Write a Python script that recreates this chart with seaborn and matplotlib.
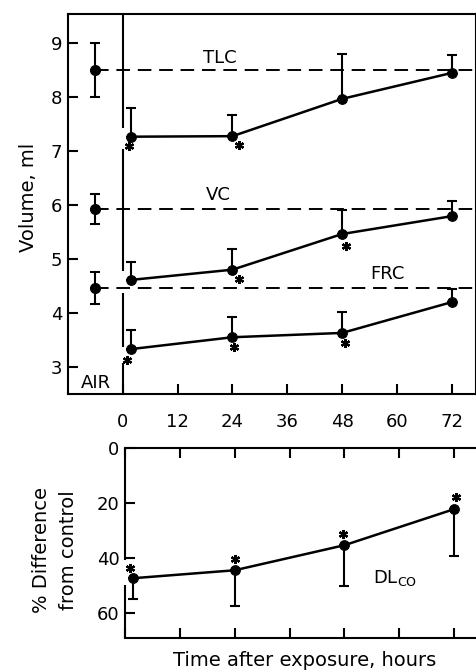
import matplotlib
matplotlib.use("Agg")
from matplotlib import pyplot as plt
from matplotlib import transforms
import numpy as np
import seaborn as sns

# ---- data ----
hours = [1.7, 24, 48, 72]
air_x = -6

tlc_air, tlc_air_sd = 8.5, 0.5
vc_air, vc_air_sd = 5.92, 0.28
frc_air, frc_air_sd = 4.46, 0.30

tlc = [7.26, 7.27, 7.96, 8.44]
tlc_sd = [0.53, 0.40, 0.83, 0.33]
vc = [4.61, 4.80, 5.46, 5.79]
vc_sd = [0.34, 0.38, 0.44, 0.28]
frc = [3.33, 3.55, 3.63, 4.20]
frc_sd = [0.35, 0.37, 0.38, 0.25]

dlco = [47.3, 44.4, 35.3, 22.2]
dlco_sd = [7.7, 13.1, 14.9, 17.1]

tlc_sig = [True, True, False, False]
vc_sig = [False, True, True, False]
frc_sig = [True, True, True, False]
dlco_sig = [True, True, True, True]

xticks = [0, 12, 24, 36, 48, 60, 72]
vol_ticks = [3, 4, 5, 6, 7, 8, 9]
pct_ticks = [0, 20, 40, 60]

# ---- style ----
sns.set_style("ticks")
plt.rcParams['font.family'] = ['DejaVu Sans']
for k in ['text.color', 'axes.labelcolor', 'xtick.color', 'ytick.color', 'axes.edgecolor']:
    plt.rcParams[k] = 'black'
K = 'black'
LW = 1.5
FS = 13

# star offsets in pixels (dx, dy) relative to each point
star_off = {
    'tlc': [(-2, -9), (7, -9), None, None],
    'vc': [None, (7, -9), (4, -12), None],
    'frc': [(-4, -11), (2, -10), (3, -10), None],
    'dlco': [(-3, 10), (0, 11), (-1, 11), (2, 12)],
}

fig = plt.figure(figsize=(4.77, 6.72), dpi=100)
ax1 = fig.add_axes([68/477, 1-394/672, 408/477, 380/672])
ax2 = fig.add_axes([125/477, 1-638/672, 352/477, 190/672])


def draw_series(ax, x, y, sd, sig, offs):
    sns.lineplot(x=x, y=y, ax=ax, color=K, lw=LW*1.2, marker='o',
                 markersize=7, markeredgecolor=K, markerfacecolor=K, zorder=4)
    # one-sided bars: +sd (drawn downward on the inverted % axis)
    ax.errorbar(x, y, yerr=[[0]*len(sd), sd], fmt='none', ecolor=K, elinewidth=LW,
                capsize=3.5, capthick=LW, zorder=3)
    for xi, yi, s, o in zip(x, y, sig, offs):
        if s and o is not None:
            tr = transforms.offset_copy(ax.transData, fig=fig, x=o[0], y=o[1], units='dots')
            ax.plot([xi], [yi], marker=(6, 2, 0), ms=6.5, mew=1.6, color=K,
                    transform=tr, zorder=5)


# ---- top panel: volumes ----
ax1.set_xlim(-12, 77.3)
ax1.set_ylim(2.5, 9.53)

for v, s in [(tlc_air, tlc_air_sd), (vc_air, vc_air_sd), (frc_air, frc_air_sd)]:
    ax1.errorbar([air_x], [v], yerr=[[s], [s]], fmt='o', color=K, ms=7,
                 elinewidth=LW, capsize=3.5, capthick=LW, zorder=4)
    ax1.hlines(v, air_x, 77.3, colors=K, lw=1.4, linestyles=(0, (7, 4)), zorder=2)

draw_series(ax1, hours, tlc, tlc_sd, tlc_sig, star_off['tlc'])
draw_series(ax1, hours, vc, vc_sd, vc_sig, star_off['vc'])
draw_series(ax1, hours, frc, frc_sd, frc_sig, star_off['frc'])

# exposure onset line, broken around the first points
for y0, y1 in [(7.42, 9.53), (4.78, 7.04), (3.37, 4.36), (2.5, 3.07)]:
    ax1.vlines(0, y0, y1, colors=K, lw=LW, zorder=2)

ax1.text(21.3, 8.72, 'TLC', fontsize=FS, ha='center', va='center')
ax1.text(20.9, 6.19, 'VC', fontsize=FS, ha='center', va='center')
ax1.text(57.9, 4.72, 'FRC', fontsize=FS, ha='center', va='center')
ax1.text(-5.8, 2.71, 'AIR', fontsize=FS, ha='center', va='center')

ax1.set_xticks(xticks)
ax1.set_yticks(vol_ticks)
ax1.set_xticklabels([str(t) for t in xticks], fontsize=FS)
ax1.set_yticklabels([str(t) for t in vol_ticks], fontsize=FS)
ax1.tick_params(axis='x', direction='in', length=7, width=LW, pad=14)
ax1.tick_params(axis='y', direction='in', length=7, width=LW, pad=4)
for sp in ax1.spines.values():
    sp.set_linewidth(LW)
    sp.set_visible(True)
ax1.set_xlabel('')
ax1.set_ylabel('')

# ---- bottom panel: DLco ----
ax2.set_xlim(0, 77.0)
ax2.set_ylim(69, 0)
draw_series(ax2, hours, dlco, dlco_sd, dlco_sig, star_off['dlco'])
ax2.text(54.3, 47.3, r'DL$_{\mathregular{CO}}$', fontsize=FS, ha='left', va='center')

ax2.set_xticks(xticks)
ax2.set_yticks(pct_ticks)
ax2.set_yticklabels([str(t) for t in pct_ticks], fontsize=FS)
ax2.tick_params(axis='x', direction='in', length=7, width=LW, top=True,
                bottom=True, labelbottom=False, labeltop=False)
ax2.tick_params(axis='y', direction='in', length=7, width=LW, pad=4)
ax2.spines['right'].set_visible(False)
ax2.spines['left'].set_visible(False)
ax2.spines['top'].set_linewidth(LW)
ax2.spines['bottom'].set_linewidth(LW)
for y0, y1 in [(0, 40.7), (49.8, 69)]:
    ax2.vlines(0, y0, y1, colors=K, lw=LW, clip_on=False)
ax2.set_xlabel('')
ax2.set_ylabel('')

# ---- axis titles ----
fig.text(29/477, 1-197/672, 'Volume, ml', rotation=90, fontsize=14,
         ha='center', va='center')
fig.text(55/477, 1-550/672, '% Difference\nfrom control', rotation=90,
         fontsize=14, ha='center', va='center', linespacing=1.55)
fig.text(305/477, 1-660/672, 'Time after exposure, hours', fontsize=14,
         ha='center', va='center')

fig.savefig('out.png', dpi=100)
